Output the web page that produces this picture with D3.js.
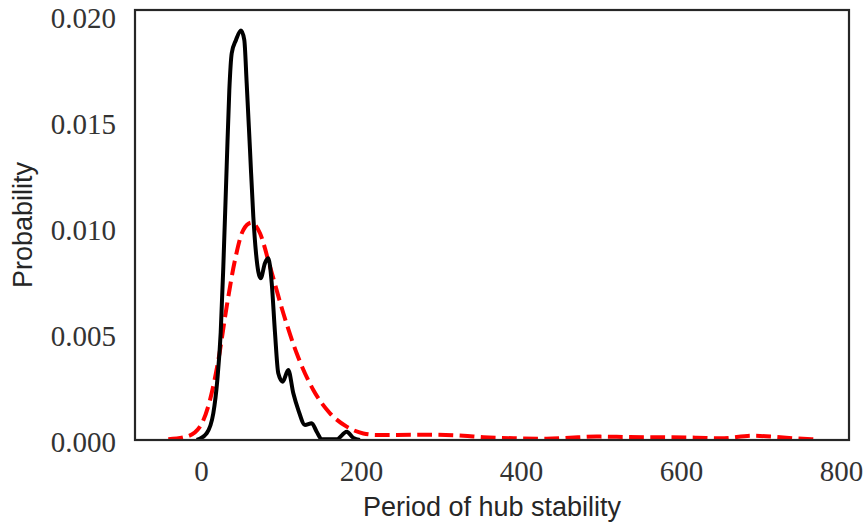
<!DOCTYPE html>
<html>
<head>
<meta charset="utf-8">
<script src="https://cdn.jsdelivr.net/npm/d3@7"></script>
<style>
  html, body { margin: 0; padding: 0; background: #fff; }
  svg { display: block; }
</style>
</head>
<body>
<svg id="chart" width="865" height="525"></svg>
<script>
// ---- data ----
const blackX = [-5.4, 7.1, 15.4, 20.4, 24.6, 27.9, 32.1, 35.4, 38.4, 43.75, 50, 54.1, 57.1, 61.25, 65.4, 68.75, 74.6, 80, 84.1, 88.4, 92.5, 96.6, 102.1, 109.1, 115.4, 121.6, 130, 138.4, 144.6, 150.9, 169.6, 182.1, 190.4, 198.75];
const blackY = [0, 0.00032, 0.00126, 0.00283, 0.00505, 0.00818, 0.0129, 0.0165, 0.01824, 0.01887, 0.01931, 0.01887, 0.01683, 0.01368, 0.01053, 0.00882, 0.00763, 0.00835, 0.00857, 0.0074, 0.00505, 0.00315, 0.00275, 0.0033, 0.0022, 0.00142, 0.00071, 0.00079, 0.00039, 0.00003, 0.00003, 0.00039, 0.0001, 0];

const redX = [-40.9, -17.9, -1.25, 11.25, 21.7, 32.1, 42.5, 52.9, 63.3, 73.75, 86.25, 102.9, 119.6, 140.4, 161.25, 182.1, 202.9, 219.6, 244.6, 286, 328, 353, 394.6, 432, 461, 494.6, 536, 578, 619.6, 649, 690.4, 719.6, 745, 767];
const redY = [0.00003, 0.00016, 0.00063, 0.00189, 0.00377, 0.00629, 0.00849, 0.00991, 0.01025, 0.00975, 0.00818, 0.00598, 0.00409, 0.00236, 0.00126, 0.00063, 0.00031, 0.00024, 0.00024, 0.00025, 0.0002, 0.00013, 0.00008, 0.00006, 0.00011, 0.00016, 0.00014, 0.00013, 0.00011, 0.00008, 0.0002, 0.00014, 0.00007, 0.00003];

const xTicks = [0, 200, 400, 600, 800];
const yTicks = [0, 0.005, 0.010, 0.015, 0.020];
const xLabel = "Period of hub stability";
const yLabel = "Probability";

// ---- layout ----
const plot = { left: 135, top: 10, right: 849, bottom: 440 };
const svg = d3.select("#chart");

const x = d3.scaleLinear().domain([-82.5, 810]).range([plot.left, plot.right]);
const y = d3.scaleLinear().domain([0, 0.02028]).range([plot.bottom, plot.top]);

svg.append("defs").append("clipPath").attr("id", "clip")
  .append("rect")
  .attr("x", plot.left).attr("y", plot.top)
  .attr("width", plot.right - plot.left).attr("height", plot.bottom - plot.top);

const line = d3.line()
  .x(d => x(d[0]))
  .y(d => y(d[1]))
  .curve(d3.curveMonotoneX);

const g = svg.append("g").attr("clip-path", "url(#clip)");

g.append("path")
  .datum(redX.map((v, i) => [v, redY[i]]))
  .attr("d", line)
  .attr("fill", "none")
  .attr("stroke", "#ff0000")
  .attr("stroke-width", 4)
  .attr("stroke-dasharray", "14.8,6.4");

g.append("path")
  .datum(blackX.map((v, i) => [v, blackY[i]]))
  .attr("d", line)
  .attr("fill", "none")
  .attr("stroke", "#000")
  .attr("stroke-width", 4)
  .attr("stroke-linejoin", "round");

// frame
svg.append("rect")
  .attr("x", plot.left).attr("y", plot.top)
  .attr("width", plot.right - plot.left).attr("height", plot.bottom - plot.top)
  .attr("fill", "none")
  .attr("stroke", "#262626")
  .attr("stroke-width", 2.2);

// axes (no tick marks, seaborn white style)
const xAxis = d3.axisBottom(x).tickValues(xTicks).tickSize(0).tickPadding(0).tickFormat(d3.format("d"));
const yAxis = d3.axisLeft(y).tickValues(yTicks).tickSize(0).tickPadding(0).tickFormat(d3.format(".3f"));

const gx = svg.append("g").attr("transform", `translate(0,${plot.bottom})`).call(xAxis);
gx.select(".domain").remove();
gx.selectAll("text")
  .attr("y", 41).attr("dy", null)
  .attr("font-family", "'Liberation Serif', 'DejaVu Serif', serif")
  .attr("font-size", 29).attr("fill", "#333");

const gy = svg.append("g").attr("transform", `translate(${plot.left},0)`).call(yAxis);
gy.select(".domain").remove();
gy.selectAll("text")
  .attr("x", -19).attr("dy", "0.4em")
  .attr("font-family", "'Liberation Serif', 'DejaVu Serif', serif")
  .attr("font-size", 29).attr("fill", "#333");

svg.append("text")
  .attr("x", (plot.left + plot.right) / 2).attr("y", 516)
  .attr("text-anchor", "middle")
  .attr("font-family", "'Liberation Sans', Arial, sans-serif")
  .attr("font-size", 27).attr("fill", "#262626")
  .text(xLabel);

svg.append("text")
  .attr("transform", `translate(32,${(plot.top + plot.bottom) / 2}) rotate(-90)`)
  .attr("text-anchor", "middle")
  .attr("font-family", "'Liberation Sans', Arial, sans-serif")
  .attr("font-size", 27).attr("fill", "#262626")
  .text(yLabel);
</script>
</body>
</html>
